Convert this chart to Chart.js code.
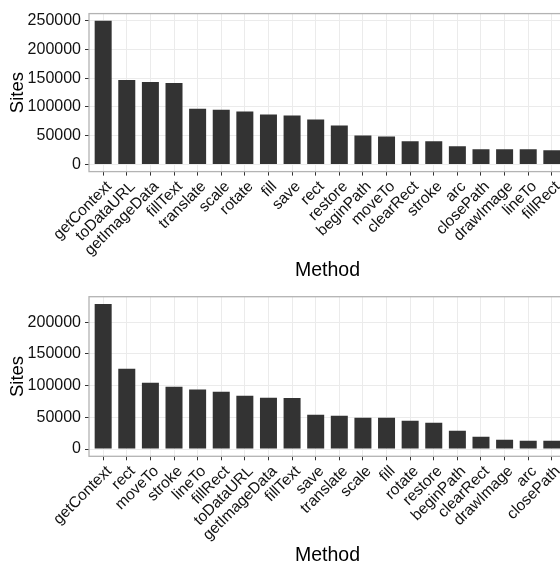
<!DOCTYPE html>
<html>
<head>
<meta charset="utf-8">
<script src="https://cdn.jsdelivr.net/npm/chart.js@4/dist/chart.umd.min.js"></script>
<style>
  html, body { margin: 0; padding: 0; background: #fff; overflow: hidden; }
  #wrap { width: 560px; height: 563px; overflow: hidden; }
  canvas { display: block; }
</style>
</head>
<body>
<div id="wrap">
  <canvas id="topChart" width="580" height="282"></canvas>
  <canvas id="bottomChart" width="580" height="281"></canvas>
</div>
<script>
// data
const topMethods = ['getContext', 'toDataURL', 'getImageData', 'fillText', 'translate', 'scale', 'rotate', 'fill', 'save', 'rect',
  'restore', 'beginPath', 'moveTo', 'clearRect', 'stroke', 'arc', 'closePath', 'drawImage', 'lineTo', 'fillRect'];
const topSites = [250000, 147100, 143600, 141900, 97100, 95300, 91900, 86700, 85000, 78100,
  67800, 50500, 48800, 40200, 40200, 31600, 26400, 26400, 26400, 24700];

const bottomMethods = ['getContext', 'rect', 'moveTo', 'stroke', 'lineTo', 'fillRect', 'toDataURL', 'getImageData', 'fillText', 'save',
  'translate', 'scale', 'fill', 'rotate', 'restore', 'beginPath', 'clearRect', 'drawImage', 'arc', 'closePath'];
const bottomSites = [228800, 126700, 104400, 98100, 93900, 90200, 83900, 81000, 80600, 54000,
  52500, 49300, 49300, 44600, 41400, 28800, 19400, 14600, 13100, 13100];

const majorStep = 50000;
const minorStep = 25000;

const FONT = "'Liberation Sans', Arial, Helvetica, sans-serif";
const PANEL_H = 159.6;

// panel border + the "Method" axis title
const panelPlugin = {
  id: 'panel',
  afterDraw(chart) {
    const { ctx, chartArea: a } = chart;
    ctx.save();
    ctx.strokeStyle = '#b3b3b3';
    ctx.lineWidth = 1.3;
    ctx.strokeRect(a.left, a.top, a.right - a.left, a.bottom - a.top);
    ctx.fillStyle = '#000';
    ctx.font = '19.5px ' + FONT;
    ctx.textAlign = 'center';
    ctx.textBaseline = 'alphabetic';
    ctx.fillText('Method', (a.left + a.right) / 2, a.bottom + 104.8);
    ctx.restore();
  }
};

function makeChart(id, methods, sites, padTop) {
  const canvas = document.getElementById(id);
  const peak = Math.max(...sites);
  const yMin = -peak * 0.05;
  const yMax = peak * 1.05;

  return new Chart(canvas, {
    type: 'bar',
    data: {
      datasets: [{
        data: sites.map((v, i) => ({ x: i, y: v })),
        backgroundColor: '#333333',
        barPercentage: 0.72,
        categoryPercentage: 1
      }]
    },
    plugins: [panelPlugin],
    options: {
      responsive: false,
      animation: false,
      layout: { padding: { top: padTop, right: 14, left: 0, bottom: 0 } },
      plugins: { legend: { display: false }, tooltip: { enabled: false } },
      scales: {
        x: {
          type: 'linear',
          offset: false,
          min: -0.6,
          max: methods.length - 0.4,
          afterBuildTicks: s => { s.ticks = methods.map((_, i) => ({ value: i })); },
          afterFit: s => { s.height = canvas.height - padTop - PANEL_H; },
          border: { display: false },
          grid: { offset: false, color: '#ebebeb', lineWidth: 1, tickLength: 4, tickColor: '#333' },
          ticks: {
            autoSkip: false, maxRotation: 45, minRotation: 45, padding: 2, labelOffset: 6,
            color: '#111', font: { family: FONT, size: 15.5 },
            callback: v => methods[v]
          }
        },
        y: {
          min: yMin,
          max: yMax,
          afterBuildTicks: s => {
            const t = [];
            for (let v = 0; v <= yMax; v += minorStep) t.push({ value: v });
            s.ticks = t;
          },
          afterFit: s => { s.width = 89; },
          border: { display: false },
          grid: {
            lineWidth: 1, tickLength: 4,
            color: c => (c.tick && c.tick.value % majorStep) ? '#f5f5f5' : '#ebebeb',
            tickColor: c => (c.tick && c.tick.value % majorStep) ? 'rgba(0,0,0,0)' : '#333'
          },
          ticks: {
            padding: 4, color: '#111', font: { family: FONT, size: 16 },
            callback: v => (v % majorStep === 0 ? String(v) : '')
          },
          title: {
            display: true, text: 'Sites', color: '#000',
            font: { family: FONT, size: 18.5 }, padding: { top: 7, bottom: 0 }
          }
        }
      }
    }
  });
}

makeChart('topChart', topMethods, topSites, 12);
makeChart('bottomChart', bottomMethods, bottomSites, 14.7);
</script>
</body>
</html>
